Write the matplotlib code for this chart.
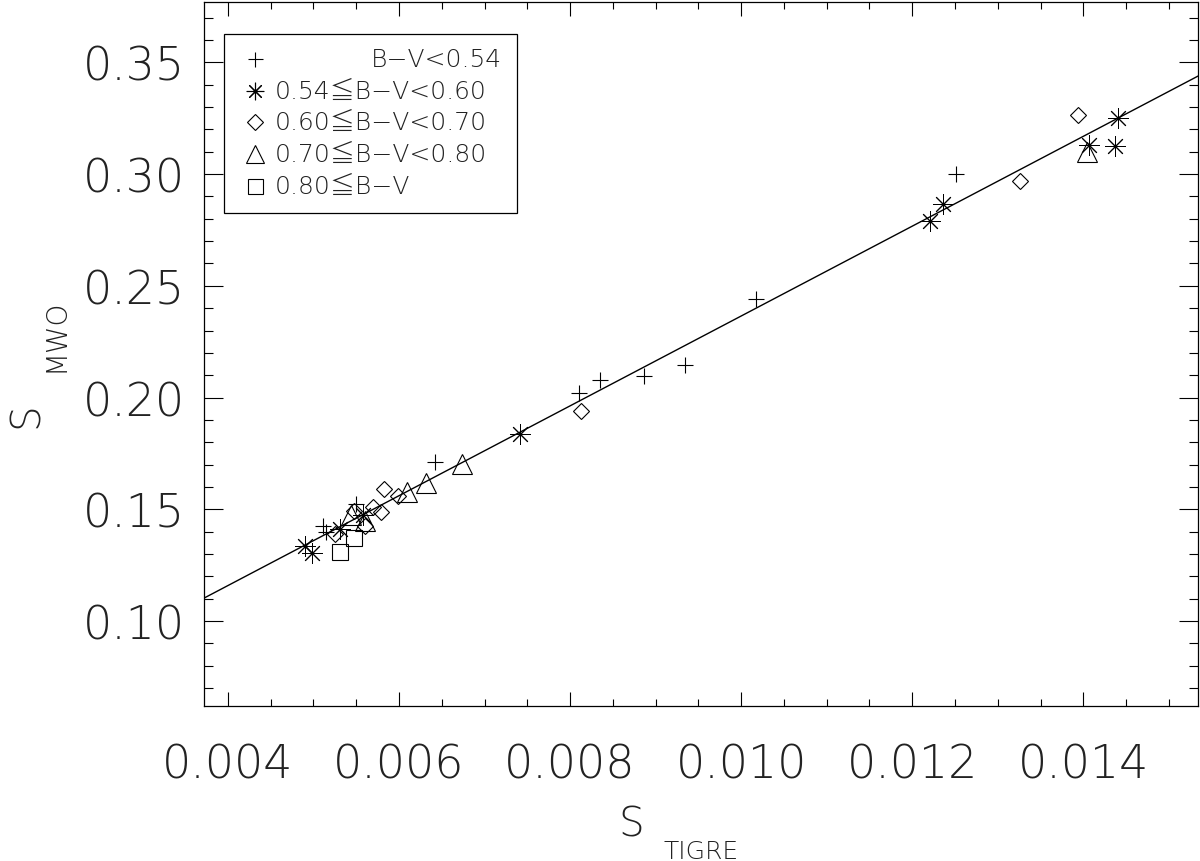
import numpy as np
import matplotlib
matplotlib.use('Agg')
import matplotlib.pyplot as plt
from matplotlib.patches import Rectangle

plt.rcParams['font.family'] = ['DejaVu Sans', 'Noto Sans CJK JP']
plt.rcParams['font.weight'] = 200
plt.rcParams['text.color'] = '#222222'
plt.rcParams['ytick.labelcolor'] = '#222222'
plt.rcParams['xtick.labelcolor'] = '#222222'

# S_TIGRE, S_MWO per B-V group
plus_x = [0.005113, 0.00515, 0.0055, 0.006418, 0.008104, 0.008354, 0.00886, 0.009347, 0.010168, 0.012512]
plus_y = [0.1426, 0.1397, 0.1524, 0.1710, 0.2020, 0.2078, 0.2098, 0.2147, 0.2441, 0.3000]

ast_x = [0.0049, 0.004985, 0.005308, 0.00558, 0.007411, 0.012213, 0.012364, 0.01407, 0.01437, 0.0144]
ast_y = [0.1334, 0.1304, 0.1412, 0.1474, 0.1837, 0.2789, 0.2866, 0.3130, 0.3127, 0.3249]

dia_x = [0.00525, 0.00547, 0.0056, 0.00569, 0.00579, 0.00583, 0.00599, 0.008125, 0.013264, 0.013941]
dia_y = [0.1389, 0.1494, 0.1426, 0.1509, 0.1489, 0.1590, 0.1560, 0.1938, 0.2969, 0.3266]

tri_x = [0.00544, 0.0056, 0.00609, 0.00632, 0.006736, 0.01404]
tri_y = [0.1474, 0.1449, 0.1576, 0.1617, 0.1703, 0.3097]

sq_x = [0.005308, 0.005472]
sq_y = [0.1307, 0.1370]

# linear fit S_MWO = a + b * S_TIGRE
fit_a = 0.0355
fit_b = 20.1

labels = ['B−V<0.54', '0.54≦B−V<0.60', '0.60≦B−V<0.70', '0.70≦B−V<0.80', '0.80≦B−V']

xmin, xmax = 0.00372, 0.01534
ymin, ymax = 0.062, 0.3771

W, H = 1200, 862
fig = plt.figure(figsize=(12, 8.62), dpi=100)
ax = fig.add_axes([0.17, 0.1798, 0.8283, 0.817])

ast = (8, 2, 0)
lw = 0.8
ax.plot(plus_x, plus_y, ls='none', marker='+', ms=12, mew=lw, color='k')
ax.plot(ast_x, ast_y, ls='none', marker=ast, ms=15, mew=0.7, color='k')
ax.plot(dia_x, dia_y, ls='none', marker='D', ms=8.5, mew=lw, mfc='none', color='k')
ax.plot(tri_x, tri_y, ls='none', marker='^', ms=14, mew=lw, mfc='none', color='k')
ax.plot(sq_x, sq_y, ls='none', marker='s', ms=12, mew=lw, mfc='none', color='k')

xx = np.array([xmin, xmax])
ax.plot(xx, fit_a + fit_b * xx, color='k', lw=1.0)

ax.set_xlim(xmin, xmax)
ax.set_ylim(ymin, ymax)
xt = np.arange(0.004, 0.0141, 0.002)
yt = np.arange(0.10, 0.351, 0.05)
ax.set_xticks(xt)
ax.set_xticks(np.arange(0.0040, 0.0153, 0.0005), minor=True)
ax.set_yticks(yt)
ax.set_yticks(np.arange(0.07, 0.376, 0.01), minor=True)
ax.set_xticklabels(['%.3f' % v for v in xt])
ax.set_yticklabels(['%.2f' % v for v in yt])

ax.tick_params(axis='both', which='both', direction='in', top=True, right=True, width=0.8)
ax.tick_params(axis='x', which='major', length=10, pad=26, labelsize=33)
ax.tick_params(axis='x', which='minor', length=5)
ax.tick_params(axis='y', which='major', length=13.7, pad=13.5, labelsize=33)
ax.tick_params(axis='y', which='minor', length=6.8)
for s in ax.spines.values():
    s.set_linewidth(0.9)

# axis titles with deep subscripts, IDL style
fig.text(618 / W, 1 - 837 / H, 'S', fontsize=29, ha='left', va='baseline')
fig.text(664 / W, 1 - 859 / H, 'TIGRE', fontsize=18, ha='left', va='baseline')
fig.text(7 / W, 1 - 428 / H, 'S', fontsize=29, ha='left', va='bottom', rotation=90)
fig.text(41 / W, 1 - 372 / H, 'MWO', fontsize=20, ha='left', va='bottom', rotation=90)

# legend box drawn by hand
ax.add_patch(Rectangle((0.0201, 0.700), 0.2945, 0.2546, transform=ax.transAxes,
                       fill=False, lw=0.9, color='k'))
leg_markers = [('+', 12, 'k'), (ast, 14, 'k'), ('D', 8.5, 'none'), ('^', 14, 'none'), ('s', 12, 'none')]
rows_y = [0.9187, 0.8736, 0.8286, 0.7836, 0.7386]
for (m, ms, fc), lab, yy in zip(leg_markers, labels, rows_y):
    ax.plot([0.0513], [yy], transform=ax.transAxes, marker=m, ms=ms * 0.9, mew=lw,
            mfc=fc, color='k', ls='none', clip_on=False)
    if lab == labels[0]:
        ax.text(0.2998, yy, lab, transform=ax.transAxes, ha='right', va='center', fontsize=18)
    else:
        ax.text(0.0714, yy, lab, transform=ax.transAxes, ha='left', va='center', fontsize=18)

fig.savefig('out.png', dpi=100)
